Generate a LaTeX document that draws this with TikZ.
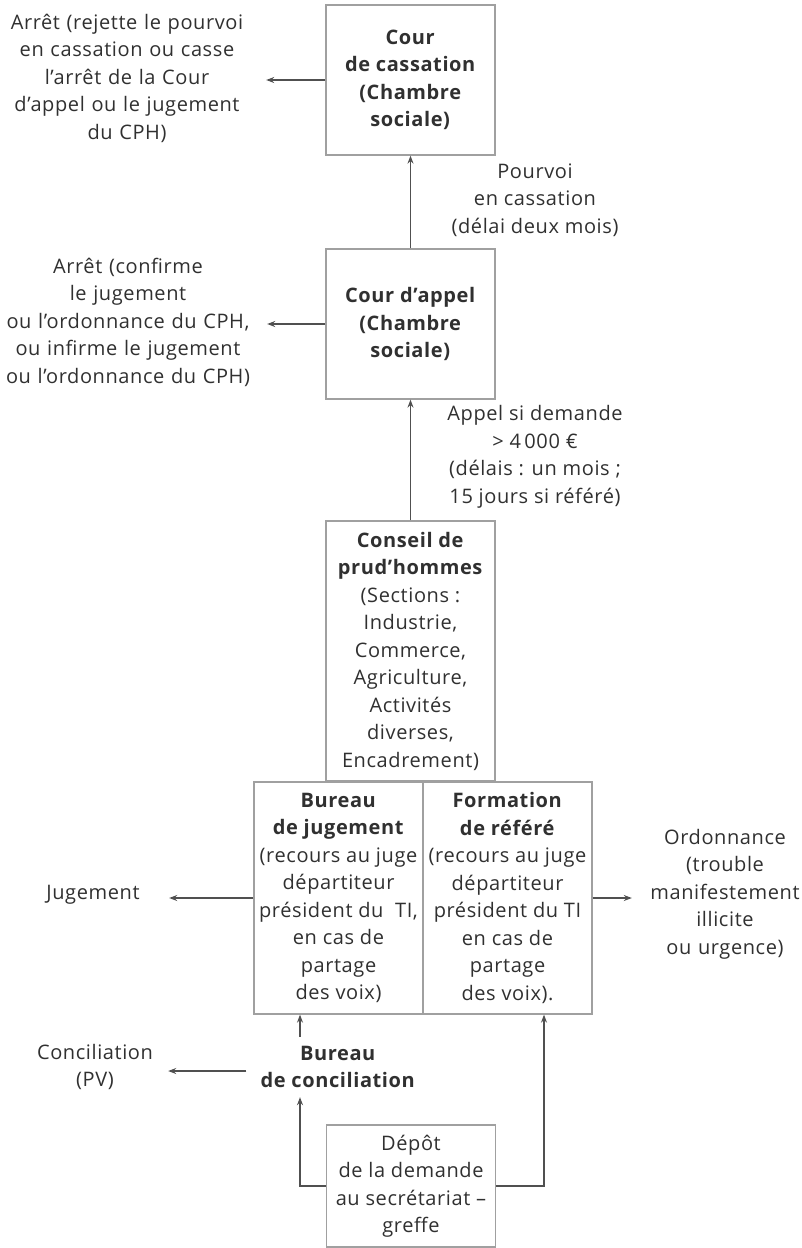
\documentclass[tikz,border=0pt]{standalone}
\usepackage{fontspec}
\setmainfont[LetterSpace=3]{Open Sans}
\usetikzlibrary{arrows.meta}
\definecolor{boxgray}{HTML}{A0A0A0}
\definecolor{linegray}{HTML}{505050}
\definecolor{txtgray}{HTML}{303030}
\begin{document}
\begin{tikzpicture}[x=1pt,y=-1pt,
  every node/.style={font=\fontsize{20}{27.5}\selectfont, text=txtgray, align=center, inner sep=0pt},
  court/.style={draw=boxgray, line width=1.3pt, minimum width=169pt},
  arr/.style={draw=linegray, line width=1.1pt, -{Stealth[length=8pt,width=6pt]}}]
  \useasboundingbox (0,0) rectangle (802,1248);
  % boxes
  \node[court, minimum height=150pt] (cass) at (410.5,80)
    {\textbf{Cour}\\\textbf{de cassation}\\\textbf{(Chambre}\\\textbf{sociale)}};
  \node[court, minimum height=150pt] (appel) at (410.5,324)
    {\textbf{Cour d’appel}\\\textbf{(Chambre}\\\textbf{sociale)}};
  \node[court, minimum height=260pt] (cph) at (410.5,651)
    {\textbf{Conseil de}\\\textbf{prud’hommes}\\(Sections :\\Industrie,\\Commerce,\\Agriculture,\\Activités\\diverses,\\Encadrement)};
  \node[court, minimum height=232pt] (bj) at (338.5,898)
    {\textbf{Bureau}\\\textbf{de jugement}\\(recours au juge\\départiteur\\président du~ TI,\\en cas de\\partage\\des voix)};
  \node[court, minimum height=232pt] (fr) at (507.5,898)
    {\textbf{Formation}\\\textbf{de référé}\\(recours au juge\\départiteur\\président du TI\\en cas de\\partage\\des voix).};
  \node[inner xsep=14pt, inner ysep=9pt] (bc) at (338,1067)
    {\textbf{Bureau}\\\textbf{de conciliation}};
  \node[court, minimum height=122pt] (depot) at (411,1186)
    {Dépôt\\de la demande\\au secrétariat --\\greffe};
  % outcomes
  \node[text width=278pt] (cassout) at (127,78)
    {Arrêt (rejette le pourvoi\\en cassation ou casse\\l’arrêt de la Cour\\d’appel ou le jugement\\du CPH)};
  \node[text width=278pt] (appelout) at (128,322)
    {Arrêt (confirme\\le jugement\\ou l’ordonnance du CPH,\\ou infirme le jugement\\ou l’ordonnance du CPH)};
  \node[text width=152pt] (jug) at (93,895) {Jugement};
  \node[text width=186pt] (ord) at (725,894)
    {Ordonnance\\(trouble\\manifestement\\illicite\\ou urgence)};
  \node[text width=146pt] (conc) at (95,1067) {Conciliation\\(PV)};
  \node (pourvoi) at (535,200) {Pourvoi\\en cassation\\(délai deux mois)};
  \node (appellbl) at (535,457) {Appel si demande\\> 4\,000 €\\(délais : un mois ;\\15 jours si référé)};
  % connectors
  \draw[arr] (appel.north) -- (cass.south);
  \draw[arr] (cph.north) -- (appel.south);
  \draw[arr] (cass.west) -- (cass.west -| cassout.east);
  \draw[arr] (appel.west) -- (appel.west -| appelout.east);
  \draw[arr] (bj.west) -- (bj.west -| jug.east);
  \draw[arr] (fr.east) -- (fr.east -| ord.west);
  \draw[arr] ([yshift=-4pt]bc.west) -- ([yshift=-4pt]bc.west -| conc.east);
  \draw[arr] ([xshift=-38pt]bc.north) -- ([xshift=-38pt]bc.north |- bj.south);
  \draw[arr] (depot.west) -| ([xshift=-38pt]bc.south);
  \draw[arr] (depot.east) -| ([xshift=36.5pt]fr.south);
\end{tikzpicture}
\end{document}
